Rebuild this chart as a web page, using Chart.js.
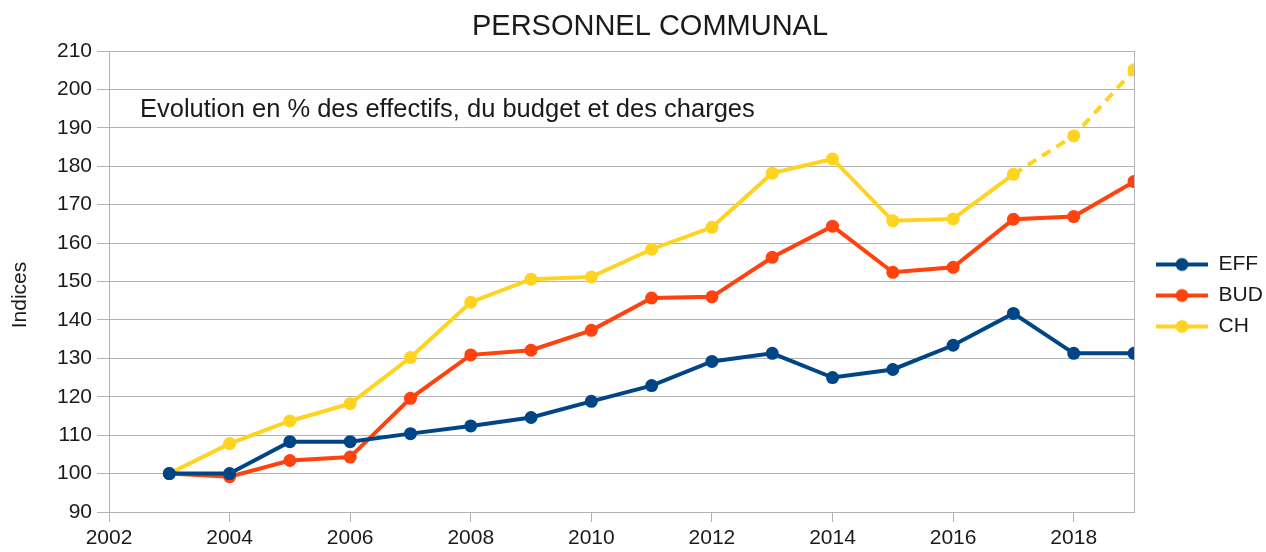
<!DOCTYPE html>
<html>
<head>
<meta charset="utf-8">
<script src="https://cdn.jsdelivr.net/npm/chart.js@4.4.1/dist/chart.umd.min.js"></script>
<style>
  html, body { margin: 0; padding: 0; background: #fff; }
</style>
</head>
<body>
<canvas id="chart" width="1266" height="552"></canvas>
<script>
const years = [2003, 2004, 2005, 2006, 2007, 2008, 2009, 2010, 2011, 2012, 2013, 2014, 2015, 2016, 2017, 2018, 2019];
const eff = [100, 100, 108.3, 108.3, 110.4, 112.4, 114.6, 118.8, 122.9, 129.2, 131.3, 125, 127.1, 133.4, 141.7, 131.3, 131.3];
const bud = [100, 99.2, 103.4, 104.3, 119.6, 130.9, 132.1, 137.3, 145.7, 146, 156.3, 164.4, 152.4, 153.7, 166.2, 166.9, 176];
const ch = [100, 107.8, 113.7, 118.2, 130.2, 144.6, 150.6, 151.2, 158.4, 164.1, 178.2, 181.9, 165.8, 166.3, 177.9, 187.9, 205.1];
const seriesNames = ['EFF', 'BUD', 'CH'];
const seriesColors = ['#004586', '#ff420e', '#ffd320'];
const forecastFrom = 2017; // CH is dashed after this year

const FONT = '"Liberation Sans", Arial, sans-serif';
const TEXT = '#1a1a1a';
const GRID = '#b3b3b3';

const points = vals => vals.map((v, i) => ({ x: years[i], y: v }));

function legendIcon(color) {
  const c = document.createElement('canvas');
  c.width = 64; c.height = 16;
  const g = c.getContext('2d');
  g.strokeStyle = color; g.lineWidth = 4;
  g.beginPath(); g.moveTo(12, 8); g.lineTo(64, 8); g.stroke();
  g.fillStyle = color;
  g.beginPath(); g.arc(38, 8, 6.5, 0, Math.PI * 2); g.fill();
  return c;
}

// right frame line, title, y-axis caption and the note inside the plot
const extras = {
  id: 'extras',
  beforeDatasetsDraw(chart) {
    const { ctx, chartArea: a } = chart;
    const x = Math.round(a.right) + 0.5;
    ctx.save();
    ctx.strokeStyle = GRID; ctx.lineWidth = 1;
    ctx.beginPath(); ctx.moveTo(x, a.top); ctx.lineTo(x, a.bottom); ctx.stroke();
    ctx.restore();
  },
  afterDraw(chart) {
    const { ctx } = chart;
    ctx.save();
    ctx.fillStyle = TEXT;
    ctx.textBaseline = 'middle';
    ctx.textAlign = 'center';
    ctx.font = '29px ' + FONT;
    ctx.fillText('PERSONNEL COMMUNAL', 650, 27);
    ctx.textAlign = 'left';
    ctx.font = '25.5px ' + FONT;
    ctx.fillText('Evolution en % des effectifs, du budget et des charges', 140, 110);
    ctx.translate(20, 295);
    ctx.rotate(-Math.PI / 2);
    ctx.textAlign = 'center';
    ctx.font = '21px ' + FONT;
    ctx.fillText('Indices', 0, 0);
    ctx.restore();
  }
};

const mkSet = (i, vals) => ({
  label: seriesNames[i],
  data: points(vals),
  borderColor: seriesColors[i],
  backgroundColor: seriesColors[i],
  borderWidth: 4,
  pointRadius: 6.5,
  pointHoverRadius: 6.5,
  pointBorderWidth: 0,
  tension: 0
});

const chSet = mkSet(2, ch);
chSet.segment = {
  borderDash: c => (c.p0.parsed.x >= forecastFrom ? [10, 7] : undefined)
};

new Chart(document.getElementById('chart'), {
  type: 'line',
  data: { datasets: [mkSet(0, eff), mkSet(1, bud), chSet] },
  options: {
    responsive: false,
    animation: false,
    devicePixelRatio: 1,
    layout: { padding: { top: 51, right: 0, bottom: 0, left: 0 } },
    plugins: {
      title: { display: false },
      tooltip: { enabled: false },
      legend: {
        position: 'right',
        fullSize: false,
        maxWidth: 132,
        title: { display: true, text: ' ', font: { size: 10 }, padding: 8 },
        labels: {
          usePointStyle: true,
          pointStyleWidth: 64,
          boxHeight: 16,
          padding: 10,
          color: TEXT,
          font: { family: FONT, size: 21 },
          generateLabels: chart => chart.data.datasets.map((ds, i) => ({
            text: ds.label,
            pointStyle: legendIcon(ds.borderColor),
            fillStyle: ds.borderColor,
            strokeStyle: ds.borderColor,
            lineWidth: 0,
            hidden: false,
            datasetIndex: i,
            fontColor: TEXT
          }))
        }
      }
    },
    scales: {
      x: {
        type: 'linear',
        min: 2002,
        max: 2019,
        ticks: {
          stepSize: 2,
          includeBounds: false,
          padding: 4,
          color: TEXT,
          font: { family: FONT, size: 21 },
          callback: v => String(v)
        },
        grid: { drawOnChartArea: false, drawTicks: true, tickLength: 10, color: GRID },
        border: { color: GRID },
        afterFit: s => { s.height = 40; }
      },
      y: {
        min: 90,
        max: 210,
        ticks: {
          stepSize: 10,
          padding: 5,
          color: TEXT,
          font: { family: FONT, size: 21 }
        },
        grid: { color: GRID, tickLength: 12 },
        border: { color: GRID },
        afterFit: s => { s.width = 109; }
      }
    }
  },
  plugins: [extras]
});
</script>
</body>
</html>
